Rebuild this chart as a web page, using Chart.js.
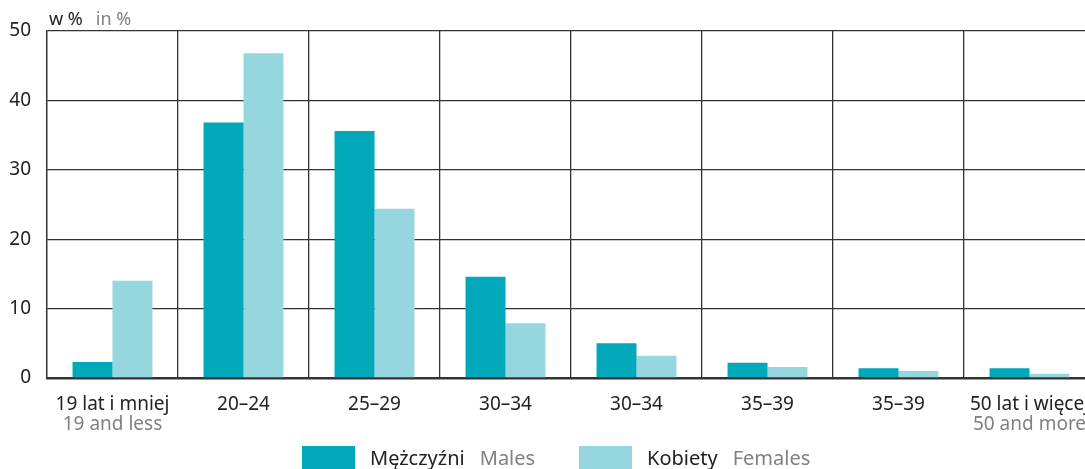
<!DOCTYPE html>
<html>
<head>
<meta charset="utf-8">
<script src="https://cdn.jsdelivr.net/npm/chart.js@4.4.0/dist/chart.umd.min.js"></script>
<style>
  html, body { margin: 0; padding: 0; background: #fff; overflow: hidden; }
  #wrap { width: 1095px; height: 469px; position: relative; }
</style>
</head>
<body>
<div id="wrap"><canvas id="ageChart"></canvas></div>
<script>
// Grupy wieku (PL / EN)
const labelsPl = ['19 lat i mniej', '20–24', '25–29', '30–34', '30–34', '35–39', '35–39', '50 lat i więcej'];
const labelsEn = ['19 and less', '', '', '', '', '', '', '50 and more'];
const males = [2.3, 36.8, 35.6, 14.6, 5.0, 2.2, 1.4, 1.4];
const females = [14.0, 46.8, 24.4, 7.9, 3.2, 1.6, 1.0, 0.6];
const yTicks = [0, 10, 20, 30, 40, 50];

const COLOR_M = '#00a8ba';
const COLOR_F = '#95d6df';
const FONT = '"Noto Sans", sans-serif';

// Druga linia podpisów osi X, nagłówek "w % in %" i legenda
const extrasPlugin = {
    id: 'extras',
    afterDraw(chart) {
        const ctx = chart.ctx;
        const x = chart.scales.x;
        const area = chart.chartArea;
        ctx.save();
        ctx.font = '19px ' + FONT;
        ctx.textBaseline = 'middle';

        // angielskie podpisy
        ctx.fillStyle = '#808080';
        ctx.textAlign = 'center';
        labelsEn.forEach((t, i) => {
            if (t) ctx.fillText(t, x.getPixelForValue(i), area.bottom + 47);
        });

        // nagłówek osi Y
        ctx.font = '18px ' + FONT;
        ctx.textAlign = 'left';
        ctx.fillStyle = '#222';
        ctx.fillText('w %', area.left + 2, 20);
        const w1 = ctx.measureText('w %').width;
        ctx.fillStyle = '#808080';
        ctx.fillText('in %', area.left + 2 + w1 + 13, 20);

        // legenda
        ctx.font = '20px ' + FONT;
        const items = [
            { color: COLOR_M, pl: 'Mężczyźni', en: 'Males', x: 302 },
            { color: COLOR_F, pl: 'Kobiety', en: 'Females', x: 579 }
        ];
        items.forEach(it => {
            ctx.fillStyle = it.color;
            ctx.fillRect(it.x, 446, 53, 26);
            ctx.fillStyle = '#222';
            ctx.fillText(it.pl, it.x + 68, 459);
            const w = ctx.measureText(it.pl).width;
            ctx.fillStyle = '#808080';
            ctx.fillText(it.en, it.x + 68 + w + 15, 459);
        });
        ctx.restore();
    }
};

const ctx = document.getElementById('ageChart').getContext('2d');
new Chart(ctx, {
    type: 'bar',
    data: {
        labels: labelsPl,
        datasets: [
            {
                label: 'Mężczyźni',
                data: males,
                backgroundColor: COLOR_M
            },
            {
                label: 'Kobiety',
                data: females,
                backgroundColor: COLOR_F
            }
        ]
    },
    options: {
        responsive: true,
        maintainAspectRatio: false,
        animation: false,
        layout: {
            padding: { top: 31, right: 0, left: 0, bottom: 0 }
        },
        datasets: {
            bar: {
                categoryPercentage: 0.61,
                barPercentage: 1.0
            }
        },
        plugins: {
            legend: { display: false },
            tooltip: { enabled: false }
        },
        scales: {
            x: {
                grid: {
                    color: '#333',
                    lineWidth: 1.3,
                    drawTicks: false,
                    offset: true
                },
                border: { color: '#333', width: 2.5 },
                ticks: {
                    color: '#222',
                    font: { family: FONT, size: 19 },
                    padding: 15,
                    maxRotation: 0,
                    autoSkip: false
                },
                afterFit(scale) {
                    scale.height = 91;
                    scale.paddingLeft = 0;
                    scale.paddingRight = 0;
                }
            },
            y: {
                min: 0,
                max: 50,
                afterBuildTicks(scale) {
                    scale.ticks = yTicks.map(v => ({ value: v }));
                },
                grid: {
                    color: '#333',
                    lineWidth: 1.3,
                    drawTicks: false
                },
                border: { color: '#333', width: 1.3 },
                ticks: {
                    color: '#222',
                    font: { family: FONT, size: 19 },
                    padding: 16
                },
                afterFit(scale) { scale.width = 47; }
            }
        }
    },
    plugins: [extrasPlugin]
});
</script>
</body>
</html>
